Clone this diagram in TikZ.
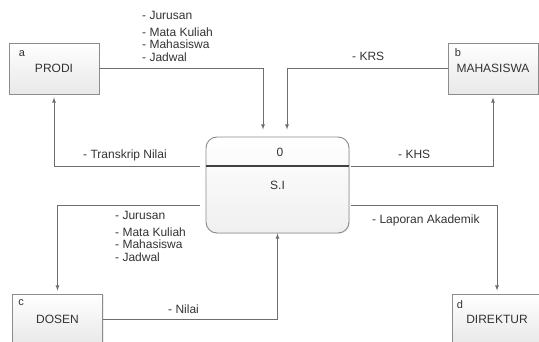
\documentclass[tikz,border=0pt]{standalone}
\usepackage{fontspec}
\setmainfont{Liberation Sans}
\usepackage{tikz}
\usetikzlibrary{shadows}

\definecolor{linegray}{HTML}{6E6E6E}
\definecolor{boxgray}{HTML}{8C8C8C}
\definecolor{txtgray}{HTML}{333333}

\begin{document}
\begin{tikzpicture}[x=1pt,y=-1pt,font=\fontsize{12}{14}\selectfont,text=txtgray,
    entity/.style={draw=boxgray,line width=0.8pt,top color=white,bottom color=gray!18,minimum width=90pt,minimum height=51pt,inner sep=0pt,drop shadow={opacity=0.15,shadow xshift=1pt,shadow yshift=-1pt}},
    idx/.style={anchor=base west,inner sep=0pt,font=\fontsize{11}{11}\selectfont},
    process/.style={draw=boxgray,line width=0.9pt,rounded corners=11pt,top color=white,bottom color=gray!12,minimum width=143pt,minimum height=96pt,inner sep=0pt,drop shadow={opacity=0.15,shadow xshift=1pt,shadow yshift=-1pt}},
    flow/.style={draw=linegray,line width=0.8pt,->,>=latex,shorten >=3pt},
    lbl/.style={anchor=base west,inner sep=0pt},
    lst/.style={anchor=north west,inner sep=0pt,align=left}]
    \useasboundingbox (0,0) rectangle (539,342);
    \clip (0,0) rectangle (539,342);
    \node[entity,label={[idx,xshift=10pt,yshift=-13.5pt]north west:a}] (prodi) at (54,68.5) {PRODI};
    \node[entity,label={[idx,xshift=7pt,yshift=-14pt]north west:b}] (mhs) at (493,68.5) {MAHASISWA};
    \node[entity,label={[idx,xshift=6pt,yshift=-12pt]north west:c}] (dosen) at (57.5,319.5) {DOSEN};
    \node[entity,label={[idx,xshift=5pt,yshift=-15pt]north west:d}] (direktur) at (497,319.5) {DIREKTUR};
    \node[process,label={[anchor=center,inner sep=0pt,xshift=2.5pt,yshift=-16pt]north:0}] (proses) at (277.5,185) {S.I};
    \draw[draw=black!75,line width=1.1pt] ([yshift=19pt]proses.west) -- ([yshift=19pt]proses.east);
    \draw[flow,shorten >=7pt] (prodi.east) -| ([xshift=-14.5pt]proses.north);
    \draw[flow,shorten >=7pt] (mhs.west) -| ([xshift=9.5pt]proses.north);
    \draw[flow,shorten <=6pt] ([yshift=19pt]proses.west) -| (prodi.south);
    \draw[flow,shorten <=2pt] ([yshift=19pt]proses.east) -| (mhs.south);
    \draw[flow,shorten <=6pt] ([yshift=-20pt]proses.west) -| (dosen.north);
    \draw[flow,shorten <=2pt] ([yshift=-20pt]proses.east) -| (direktur.north);
    \draw[flow,shorten >=0pt] (dosen.east) -| (proses.south);
    \node[lst] (data1) at (142,11.5) {- Jurusan\\[2.5pt]- Mata Kuliah\\[-1.5pt]- Mahasiswa\\[-1.5pt]- Jadwal};
    \node[lbl] (krs) at (352,61) {- KRS};
    \node[lbl] (transkrip) at (83,158.5) {- Transkrip Nilai};
    \node[lbl] (khs) at (398,158.5) {- KHS};
    \node[lst] (data2) at (115,211.5) {- Jurusan\\[2.5pt]- Mata Kuliah\\[-1.5pt]- Mahasiswa\\[-1.5pt]- Jadwal};
    \node[lbl] (nilai) at (168,313) {- Nilai};
    \node[lbl] (laporan) at (372,224) {- Laporan Akademik};
\end{tikzpicture}
\end{document}
